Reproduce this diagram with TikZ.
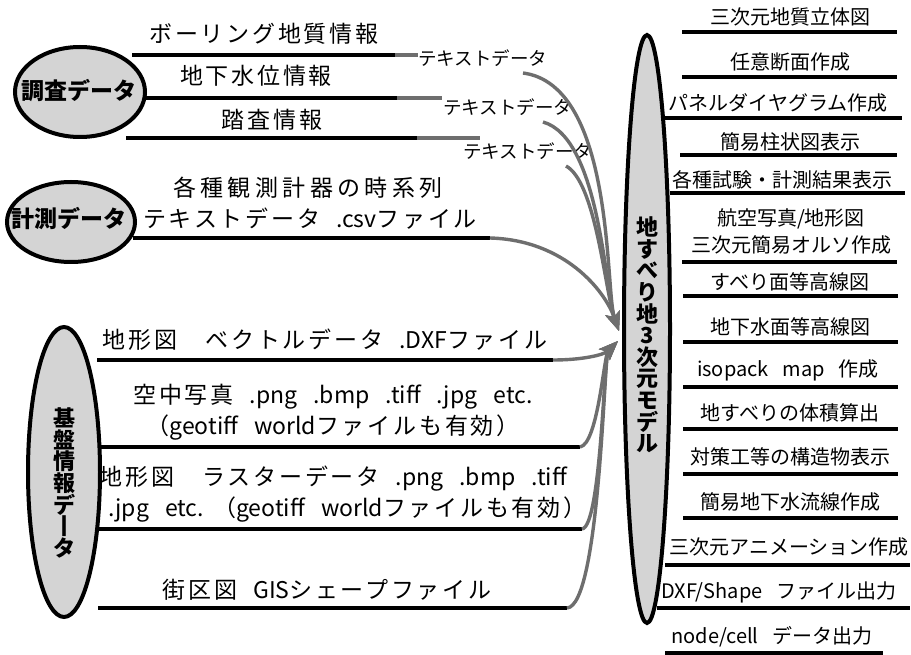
\documentclass[tikz,border=0pt]{standalone}
\usepackage{fontspec}
\setmainfont{Noto Sans CJK JP}
\newfontfamily\jpw{Noto Sans CJK JP}[LetterSpace=12]
\newfontfamily\jpww{Noto Sans CJK JP}[LetterSpace=19]
\usetikzlibrary{arrows.meta,shapes.geometric}
\definecolor{ellfill}{HTML}{D4D4D4}
\definecolor{arrgray}{HTML}{6E6E6E}
\newcommand\vtfont{\bfseries\fontsize{22}{21.6}\selectfont\lineskiplimit=-20pt\relax}
\newcommand\lt[1]{{\rmfamily #1}}
\newcommand\gp{\hspace{0.7em}}
\newcommand\ritem[7]{%
  \node[rtxt] (#1) at (#3,#4) {#2};
  \coordinate (#1a) at (#6,#5); \coordinate (#1b) at (#7,#5);
  \draw[blk] (#1a) -- (#1b);}
\begin{document}
\begin{tikzpicture}[x=1pt,y=-1pt,
  blk/.style={line width=3.8pt,black},
  gry/.style={line width=3.4pt,arrgray},
  arr/.style={line width=3.4pt,arrgray,-{Stealth[length=19pt,width=15pt,inset=4pt]}},
  ell/.style={ellipse,draw,line width=4pt,fill=ellfill,inner sep=0pt},
  ltxt/.style={inner sep=0pt,font=\jpw\fontsize{23}{31}\selectfont,align=center},
  stxt/.style={inner sep=0pt,font=\fontsize{18.5}{22}\selectfont},
  rtxt/.style={inner sep=0pt,font=\fontsize{20}{27}\selectfont,align=center},
  etxt/.style={inner sep=0pt,font=\bfseries\fontsize{23}{26}\selectfont},
  vtxt/.style={inner sep=0pt,align=center,font=\vtfont}]
\useasboundingbox[fill=white] (0,0) rectangle (911,655);

% ---------- source ellipses ----------
\node[ell,minimum width=130pt,minimum height=90pt] (chosa) at (80,92) {};
\node[etxt] (chosaT) at (79,91) {調査データ};
\node[ell,minimum width=128pt,minimum height=80pt] (keisoku) at (71,222) {};
\node[etxt] (keisokuT) at (69,219) {計測データ};
\node[ell,minimum width=72pt,minimum height=290pt] (kiban) at (64,472) {};
\node[vtxt] (kibanT) at (64,483) {基\\盤\\情\\報\\デ\\丨\\タ};

% ---------- target ellipse ----------
\node[ell,minimum width=46pt,minimum height=588pt] (model) at (647,329) {};
\node[vtxt] (modelT) at (647,335) {地\\す\\べ\\り\\地\\3\\次\\元\\モ\\デ\\ル};

\coordinate (tip1) at (619,331);
\coordinate (tip2) at (618,341);

% ---------- survey data ----------
\node[ltxt] (boring) at (264,34) {ボーリング地質情報};
\node[ltxt] (chika) at (256,76) {地下水位情報};
\node[ltxt] (tousa) at (272,120) {踏査情報};
\coordinate (l1a) at (132,55); \coordinate (l1b) at (395,55); \coordinate (l1c) at (418,55);
\coordinate (l2a) at (145,98); \coordinate (l2b) at (397,98); \coordinate (l2c) at (442,98);
\coordinate (l3a) at (126,138); \coordinate (l3b) at (417,138); \coordinate (l3c) at (480,138);
\draw[blk] (l1a) -- (l1b); \draw[gry] (l1b) -- (l1c);
\draw[blk] (l2a) -- (l2b); \draw[gry] (l2b) -- (l2c);
\draw[blk] (l3a) -- (l3b); \draw[gry] (l3b) -- (l3c);
\node[stxt,anchor=west] (td1) at (418,58) {テキストデータ};
\node[stxt,anchor=west] (td2) at (443,107) {テキストデータ};
\node[stxt,anchor=west] (td3) at (463,151) {テキストデータ};
\coordinate (c1s) at (523,73);
\coordinate (c2s) at (543,122);
\coordinate (c3s) at (566,166);
\draw[arr] (c1s) .. controls (615,85) and (605,291) .. (tip1);
\draw[arr] (c2s) .. controls (600,138) and (605,291) .. (tip1);
\draw[arr] (c3s) .. controls (596,182) and (605,291) .. (tip1);

% ---------- measurement data ----------
\node[ltxt,anchor=west,font=\jpww\fontsize{23}{31}\selectfont] (kei1) at (173,188) {各種観測計器の時系列};
\node[ltxt,anchor=west] (kei2) at (143,219) {テキストデータ\gp\lt{.csv}ファイル};
\coordinate (l4a) at (133,238); \coordinate (l4b) at (490,238);
\draw[blk] (l4a) -- (l4b);
\draw[arr] (l4b) .. controls (565,240) and (605,291) .. (tip1);

% ---------- base information ----------
\node[ltxt] (dxf) at (325,340) {地形図　ベクトルデータ\gp\lt{.DXF}ファイル};
\node[ltxt] (kuchu) at (333,412) {空中写真\gp\lt{.png\gp.bmp\gp.tiff\gp.jpg\gp etc.}\\（\lt{geotiff\gp world}ファイルも有効）};
\node[ltxt,align=right,anchor=east] (raster) at (567,494) {地形図　ラスターデータ\gp\lt{.png\gp.bmp\gp.tiff}\\\lt{.jpg\gp etc.}\hspace{0.4em}（\lt{geotiff\gp world}ファイルも有効）\kern-0.85em};
\node[ltxt] (gaiku) at (327,590) {街区図\gp\lt{GIS}シェープファイル};
\coordinate (l5a) at (97,360);  \coordinate (l5b) at (553,360);
\coordinate (l6a) at (100,447); \coordinate (l6b) at (580,447);
\coordinate (l7a) at (96,529);  \coordinate (l7b) at (582,529);
\coordinate (l8a) at (98,608);  \coordinate (l8b) at (567,608);
\draw[blk] (l5a) -- (l5b);
\draw[blk] (l6a) -- (l6b);
\draw[blk] (l7a) -- (l7b);
\draw[blk] (l8a) -- (l8b);
\draw[arr] (l5b) .. controls (582,360) and (604,355) .. (tip2);
\draw[arr] (l6b) .. controls (598,444) and (604,355) .. (tip2);
\draw[arr] (l7b) .. controls (601,527) and (604,355) .. (tip2);
\draw[arr] (l8b) .. controls (600,606) and (604,355) .. (tip2);

% ---------- outputs ----------
\ritem{r1}{三次元地質立体図}{790}{17}{32}{682}{897}
\ritem{r2}{任意断面作成}{790}{62}{77}{682}{897}
\ritem{r3}{パネルダイヤグラム作成}{778}{103}{118}{662}{902}
\ritem{r4}{簡易柱状図表示}{790}{142}{155}{680}{897}
\ritem{r5}{各種試験・計測結果表示}{782}{180}{193}{670}{905}
\ritem{r6}{航空写真/地形図\\三次元簡易オルソ作成}{791}{231.5}{262}{682}{897}
\ritem{r7}{すべり面等高線図}{790}{282}{296}{683}{898}
\ritem{r8}{地下水面等高線図}{790}{327}{342}{683}{898}
\ritem{r9}{isopack\gp map\gp 作成}{788}{370}{387}{683}{898}
\ritem{r10}{地すべりの体積算出}{790}{413}{429}{683}{898}
\ritem{r11}{対策工等の構造物表示}{790}{457}{474}{683}{898}
\ritem{r12}{簡易地下水流線作成}{790}{502}{518}{683}{898}
\ritem{r13}{三次元アニメーション作成}{789}{547}{565}{665}{910}
\ritem{r14}{DXF/Shape\gp ファイル出力}{779}{592}{608}{657}{910}
\ritem{r15}{node/cell\gp データ出力}{772}{637}{653}{665}{883}
\end{tikzpicture}
\end{document}
